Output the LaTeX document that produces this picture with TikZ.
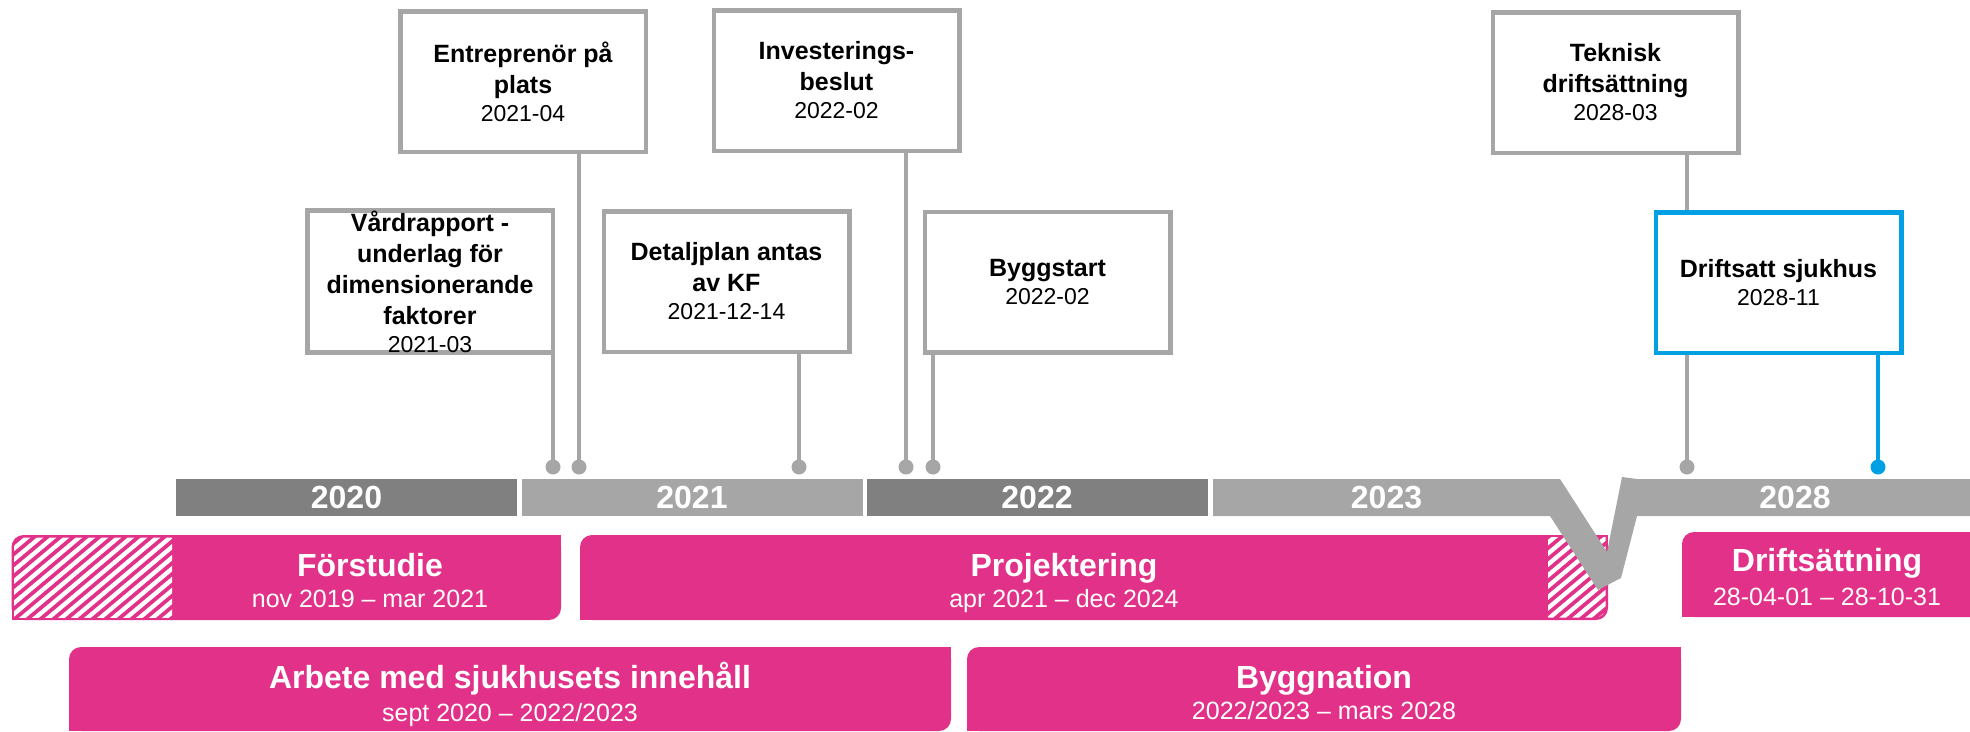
\documentclass[tikz,border=0pt]{standalone}
\usepackage{fontspec}
\setmainfont{Liberation Sans}
\usetikzlibrary{backgrounds}
\definecolor{pinkbar}{RGB}{225,49,136}
\definecolor{darkyr}{RGB}{128,128,128}
\definecolor{lightyr}{RGB}{166,166,166}
\definecolor{boxgray}{RGB}{166,166,166}
\definecolor{blueline}{RGB}{0,160,227}
\newcommand\msdate[1]{\\[-3pt]{\mdseries\fontsize{23}{28}\selectfont #1}}
\newcommand\phasebar[4]{%
  \fill[pinkbar, rounded corners=12pt] (#1,#2) rectangle (#3,#4);
  \fill[pinkbar] (#3-20,#2) rectangle (#3,#2+20);
  \fill[pinkbar] (#1,#4-20) rectangle (#1+20,#4);
}
\begin{document}
\begin{tikzpicture}[x=1pt,y=-1pt,
  milestone/.style={draw=boxgray, line width=4.5pt, fill=white, minimum width=245.5pt,
    minimum height=140.5pt, inner sep=0pt, align=center, font=\fontsize{25}{31}\selectfont\bfseries},
  conn/.style={draw=boxgray, line width=4pt},
  dotg/.style={circle, fill=boxgray, inner sep=0pt, minimum size=15pt},
  yearbar/.style={minimum width=341pt, minimum height=37pt, inner sep=0pt, text=white,
    font=\fontsize{32}{36}\selectfont\bfseries},
  yearlbl/.style={text=white, font=\fontsize{32}{36}\selectfont\bfseries, inner sep=0pt},
  phtitle/.style={text=white, font=\fontsize{32}{36}\selectfont\bfseries, anchor=base, inner sep=0pt},
  phsub/.style={text=white, font=\fontsize{25}{30}\selectfont, anchor=base, inner sep=0pt},
  stripe/.style={white, line width=4.3pt},
]
\clip (0,0) rectangle (1970,731);

% phase bars
\phasebar{11.5}{535}{561}{620}
\phasebar{580}{535}{1608}{620}
\phasebar{1682}{532}{1990}{617}
\phasebar{69}{647}{951}{731}
\phasebar{967}{647}{1681}{731}

% hatches
\begin{scope}
  \clip (14,537.5) rectangle (172,617.5);
  \clip[rounded corners=10pt] (14,537.5) rectangle (300,700);
  \foreach \c in {-160,-147,...,200} \draw[stripe] (\c,640) -- (\c+143,520);
\end{scope}
\begin{scope}
  \clip (1548,537.5) rectangle (1605.5,617.5);
  \clip[rounded corners=10pt] (1400,450) rectangle (1605.5,617.5);
  \foreach \c in {1380,1393,...,1640} \draw[stripe] (\c,640) -- (\c+143,520);
\end{scope}

% phase labels
\node[phtitle] (t1) at (370,576.5) {Förstudie};
\node[phsub]   (s1) at (370,607) {nov 2019 – mar 2021};
\node[phtitle] (t2) at (1064,576.5) {Projektering};
\node[phsub]   (s2) at (1064,607) {apr 2021 – dec 2024};
\node[phtitle] (t3) at (1827,571.5) {Driftsättning};
\node[phsub]   (s3) at (1827,605) {28-04-01 – 28-10-31};
\node[phtitle] (t4) at (510,688.5) {Arbete med sjukhusets innehåll};
\node[phsub]   (s4) at (510,721) {sept 2020 – 2022/2023};
\node[phtitle] (t5) at (1324,688.5) {Byggnation};
\node[phsub]   (s5) at (1324,719) {2022/2023 – mars 2028};

% year bar
\node[yearbar, fill=darkyr]  (y2020) at (346.5,497.5) {2020};
\node[yearbar, fill=lightyr] (y2021) at (692,497.5) {2021};
\node[yearbar, fill=darkyr]  (y2022) at (1037,497.5) {2022};
\fill[lightyr] (1213,479) -- (1560,479) -- (1607,552) -- (1622,477) -- (1637,479)
  -- (1975,479) -- (1975,516) -- (1637,516) -- (1621,578) -- (1598,590)
  -- (1550,516) -- (1213,516) -- cycle;
\node[yearlbl] (y2023) at (1386.5,497.5) {2023};
\node[yearlbl] (y2028) at (1795,497.5) {2028};

% milestone boxes
\node[milestone] (ent)  at (523,81.5)   {Entreprenör på\\plats\msdate{2021-04}};
\node[milestone] (vard) at (430,281.5)  {Vårdrapport -\\underlag för\\dimensionerande\\faktorer\msdate{2021-03}};
\node[milestone] (det)  at (726.5,281.5){Detaljplan antas\\av KF\msdate{2021-12-14}};
\node[milestone] (inv)  at (836.5,80.5) {Investerings-\\beslut\msdate{2022-02}};
\node[milestone] (bygg) at (1047.5,282) {Byggstart\msdate{2022-02}};
\node[milestone] (tek)  at (1615.5,82.5){Teknisk\\driftsättning\msdate{2028-03}};
\node[milestone, draw=blueline] (drift) at (1778.5,282.5) {Driftsatt sjukhus\msdate{2028-11}};

% dots
\node[dotg] (dv) at (553,467) {};
\node[dotg] (de) at (579,467) {};
\node[dotg] (dd) at (799,467) {};
\node[dotg] (di) at (906,467) {};
\node[dotg] (db) at (933,467) {};
\node[dotg] (dt) at (1687,467) {};
\node[dotg, fill=blueline] (dr) at (1878,467) {};

% connectors (behind the boxes)
\begin{scope}[on background layer]
  \draw[conn] (dv.center) -- (dv.center |- vard.south);
  \draw[conn] (de.center) -- (de.center |- ent.south);
  \draw[conn] (dd.center) -- (dd.center |- det.south);
  \draw[conn] (di.center) -- (di.center |- inv.south);
  \draw[conn] (db.center) -- (db.center |- bygg.south);
  \draw[conn] (dt.center) -- (dt.center |- tek.south);
  \draw[conn, draw=blueline] (dr.center) -- (dr.center |- drift.south);
\end{scope}
\end{tikzpicture}
\end{document}
